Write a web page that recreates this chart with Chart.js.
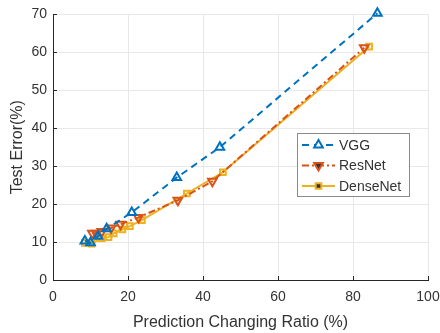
<!DOCTYPE html>
<html>
<head>
<meta charset="utf-8">
<script src="https://cdn.jsdelivr.net/npm/chart.js@4"></script>
<style>
  html, body { margin: 0; padding: 0; background: #fff; }
  #wrap { width: 440px; height: 333px; }
</style>
</head>
<body>
<div id="wrap"><canvas id="chart" width="440" height="333"></canvas></div>
<script>
// values (x = prediction changing ratio %, y = test error %)
const seriesNames = ['VGG', 'ResNet', 'DenseNet'];
const vggX = [8.5, 10, 12, 14.3, 21, 33, 44.5, 86.5];
const vggY = [10.3, 9.8, 11.5, 13.5, 17.8, 27, 35, 70.3];
const resnetX = [10.5, 11.5, 13, 15.5, 18, 22.8, 33.3, 42.5, 83];
const resnetY = [12.3, 12.3, 12.8, 13.7, 14.7, 16.5, 21, 26, 61.2];
const densenetX = [8.5, 10.3, 13, 14.8, 16.2, 18.5, 20.5, 23.7, 35.7, 45.3, 84.3];
const densenetY = [9.8, 9.6, 11, 11.3, 12.3, 13.3, 14.2, 15.8, 22.8, 28.4, 61.5];
const xTicks = [0, 20, 40, 60, 80, 100];
const yTicks = [0, 10, 20, 30, 40, 50, 60, 70];

const textColor = '#333333';
const fontFamily = '"Liberation Sans", Arial, sans-serif';
const toPoints = (xs, ys) => xs.map((x, i) => ({ x: x, y: ys[i] }));

// legend drawn inside the plot + inward tick marks (matlab style)
const extras = {
  id: 'extras',
  afterDraw(chart) {
    const ctx = chart.ctx;
    const xs = chart.scales.x, ys = chart.scales.y;
    ctx.save();
    ctx.strokeStyle = '#262626';
    ctx.lineWidth = 1;
    xTicks.forEach(t => {
      const px = Math.round(xs.getPixelForValue(t)) + 0.5;
      ctx.beginPath(); ctx.moveTo(px, ys.bottom); ctx.lineTo(px, ys.bottom - 4); ctx.stroke();
    });
    yTicks.forEach(t => {
      const py = Math.round(ys.getPixelForValue(t)) + 0.5;
      ctx.beginPath(); ctx.moveTo(xs.left, py); ctx.lineTo(xs.left + 4, py); ctx.stroke();
    });

    // legend box
    const bx = 297, by = 133, bw = 112, bh = 63;
    ctx.fillStyle = '#fff';
    ctx.fillRect(bx, by, bw, bh);
    ctx.strokeStyle = '#8a8a8a';
    ctx.strokeRect(bx + 0.5, by + 0.5, bw, bh);
    chart.data.datasets.forEach((ds, i) => {
      const cy = by + 12 + i * 20.5;
      ctx.strokeStyle = ds.borderColor;
      ctx.lineWidth = 2;
      ctx.setLineDash(ds.borderDash || []);
      ctx.beginPath(); ctx.moveTo(bx + 5, cy); ctx.lineTo(bx + 38, cy); ctx.stroke();
      ctx.setLineDash([]);
      Chart.helpers.drawPoint(ctx, {
        pointStyle: ds.pointStyle, radius: ds.pointRadius,
        rotation: ds.pointRotation || 0, borderWidth: 2
      }, bx + 21.5, cy);
      ctx.fillStyle = textColor;
      ctx.font = '14px ' + fontFamily;
      ctx.textBaseline = 'middle';
      ctx.fillText(ds.label, bx + 42, cy + 1);
    });
    ctx.restore();
  }
};

const common = { showLine: true, borderWidth: 2, backgroundColor: 'rgba(255,255,255,0)', pointBorderWidth: 2, clip: false };

new Chart(document.getElementById('chart'), {
  type: 'scatter',
  data: {
    datasets: [
      Object.assign({}, common, {
        label: seriesNames[0], data: toPoints(vggX, vggY),
        borderColor: '#0072BD', pointBorderColor: '#0072BD',
        borderDash: [7, 5], pointStyle: 'triangle', pointRadius: 5
      }),
      Object.assign({}, common, {
        label: seriesNames[1], data: toPoints(resnetX, resnetY),
        borderColor: '#D95319', pointBorderColor: '#D95319',
        borderDash: [7, 3, 2, 3], pointStyle: 'triangle', pointRotation: 180, pointRadius: 5
      }),
      Object.assign({}, common, {
        label: seriesNames[2], data: toPoints(densenetX, densenetY),
        borderColor: '#EDB120', pointBorderColor: '#EDB120',
        pointStyle: 'rect', pointRadius: 4
      })
    ]
  },
  options: {
    responsive: false,
    animation: false,
    layout: { padding: { top: 12, right: 12, left: 0, bottom: 0 } },
    plugins: { legend: { display: false }, tooltip: { enabled: false } },
    scales: {
      x: {
        type: 'linear', min: 0, max: 100,
        afterBuildTicks: s => { s.ticks = xTicks.map(v => ({ value: v })); },
        afterFit: s => { s.height = 53; s.paddingRight = 0; },
        grid: { color: '#e8e8e8', drawTicks: false },
        border: { color: '#262626' },
        ticks: { color: textColor, padding: 9, maxRotation: 0, font: { family: fontFamily, size: 14 } },
        title: { display: true, text: 'Prediction Changing Ratio (%)', color: textColor, padding: { top: 2, bottom: 1 },
          font: { family: fontFamily, size: 16 } }
      },
      y: {
        type: 'linear', min: 0, max: 70,
        afterBuildTicks: s => { s.ticks = yTicks.map(v => ({ value: v })); },
        afterFit: s => { s.width = 53; },
        grid: { color: '#e8e8e8', drawTicks: false },
        border: { color: '#262626' },
        ticks: { color: textColor, padding: 6, font: { family: fontFamily, size: 14 } },
        title: { display: true, text: 'Test Error(%)', color: textColor, padding: { top: 8, bottom: 2 },
          font: { family: fontFamily, size: 16 } }
      }
    }
  },
  plugins: [extras]
});
</script>
</body>
</html>
